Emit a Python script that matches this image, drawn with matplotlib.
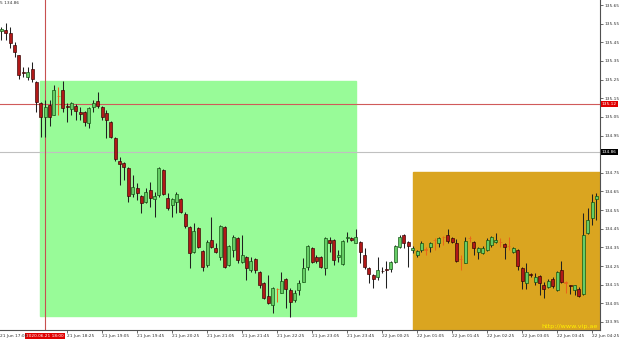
import matplotlib
matplotlib.use('Agg')
import matplotlib.pyplot as plt
import matplotlib.transforms as mtransforms
from matplotlib.patches import Rectangle
import numpy as np

# M5 candles, 21 Jun 17:10 -> 22 Jun 04:30
opens = [135.511, 135.516, 135.500, 135.436, 135.382, 135.289, 135.264, 135.307, 135.237, 135.125,
         135.050, 135.114, 135.060, 135.164, 135.194, 135.109, 135.093, 135.109, 135.076, 135.076,
         135.018, 135.103, 135.135, 135.103, 135.071, 135.023, 134.937, 134.814, 134.803, 134.776,
         134.637, 134.669, 134.626, 134.594, 134.658, 134.610, 134.632, 134.765, 134.615, 134.578,
         134.594, 134.610, 134.530, 134.460, 134.326, 134.454, 134.331, 134.256, 134.390, 134.347,
         134.299, 134.460, 134.256, 134.337, 134.401, 134.272, 134.299, 134.229, 134.288, 134.219,
         134.160, 134.090, 134.042, 134.129, 134.106, 134.181, 134.122, 134.068, 134.122, 134.165,
         134.245, 134.347, 134.299, 134.299, 134.240, 134.390, 134.390, 134.299, 134.261, 134.401,
         134.401, 134.374, 134.379, 134.310, 134.240, 134.202, 134.192, 134.226, 134.232, 134.235,
         134.272, 134.353, 134.417, 134.379, 134.337, 134.310, 134.337, 134.339, 134.353, 134.392,
         134.374, 134.408, 134.417, 134.401, 134.374, 134.290, 134.267, 134.403, 134.379, 134.326,
         134.320, 134.337, 134.363, 134.379, 134.381, 134.369, 134.360, 134.326, 134.337, 134.240,
         134.160, 134.205, 134.165, 134.197, 134.149, 134.138, 134.181, 134.122, 134.229, 134.162,
         134.146, 134.122, 134.127, 134.101, 134.428, 134.508, 134.610]
highs = [135.532, 135.554, 135.532, 135.452, 135.382, 135.318, 135.318, 135.345, 135.243, 135.130,
         135.141, 135.141, 135.221, 135.211, 135.243, 135.125, 135.130, 135.119, 135.103, 135.082,
         135.103, 135.141, 135.184, 135.109, 135.087, 135.028, 134.942, 134.835, 134.808, 134.782,
         134.739, 134.696, 134.632, 134.669, 134.701, 134.648, 134.782, 134.771, 134.642, 134.615,
         134.648, 134.615, 134.540, 134.465, 134.481, 134.460, 134.337, 134.390, 134.513, 134.374,
         134.471, 134.465, 134.363, 134.417, 134.406, 134.417, 134.304, 134.299, 134.294, 134.224,
         134.165, 134.202, 134.138, 134.133, 134.219, 134.186, 134.133, 134.122, 134.176, 134.294,
         134.363, 134.353, 134.310, 134.304, 134.406, 134.406, 134.396, 134.337, 134.390, 134.433,
         134.406, 134.449, 134.385, 134.347, 134.245, 134.208, 134.299, 134.245, 134.278, 134.278,
         134.363, 134.417, 134.422, 134.385, 134.358, 134.337, 134.385, 134.353, 134.379, 134.401,
         134.406, 134.412, 134.449, 134.406, 134.396, 134.310, 134.406, 134.412, 134.385, 134.353,
         134.358, 134.401, 134.412, 134.428, 134.401, 134.374, 134.406, 134.353, 134.342, 134.245,
         134.267, 134.213, 134.213, 134.202, 134.165, 134.181, 134.192, 134.224, 134.278, 134.170,
         134.149, 134.149, 134.138, 134.535, 134.562, 134.637, 134.642]
lows = [135.463, 135.463, 135.420, 135.371, 135.253, 135.264, 135.248, 135.237, 135.076, 134.942,
        134.942, 135.001, 135.060, 135.060, 135.076, 135.023, 135.060, 135.034, 135.034, 135.001,
        134.991, 135.076, 135.098, 135.034, 134.937, 134.937, 134.814, 134.685, 134.712, 134.594,
        134.621, 134.605, 134.535, 134.589, 134.567, 134.513, 134.621, 134.632, 134.551, 134.513,
        134.535, 134.535, 134.454, 134.240, 134.320, 134.347, 134.224, 134.245, 134.347, 134.320,
        134.283, 134.240, 134.251, 134.299, 134.267, 134.267, 134.176, 134.219, 134.213, 134.133,
        134.074, 134.047, 133.999, 134.058, 134.106, 134.025, 133.975, 134.058, 134.095, 134.165,
        134.229, 134.267, 134.267, 134.240, 134.202, 134.326, 134.256, 134.272, 134.256, 134.379,
        134.385, 134.374, 134.267, 134.235, 134.160, 134.133, 134.176, 134.213, 134.133, 134.219,
        134.267, 134.347, 134.347, 134.245, 134.320, 134.299, 134.326, 134.310, 134.326, 134.337,
        134.353, 134.363, 134.374, 134.374, 134.272, 134.229, 134.267, 134.379, 134.310, 134.288,
        134.315, 134.331, 134.353, 134.374, 134.353, 134.288, 134.337, 134.320, 134.229, 134.127,
        134.127, 134.192, 134.149, 134.095, 134.079, 134.133, 134.133, 134.117, 134.160, 134.106,
        134.101, 134.095, 134.085, 134.095, 134.422, 134.471, 134.497]
closes = [135.521, 135.500, 135.446, 135.398, 135.275, 135.284, 135.291, 135.253, 135.130, 135.050,
          135.103, 135.050, 135.194, 135.160, 135.098, 135.101, 135.125, 135.082, 135.066, 135.023,
          135.098, 135.125, 135.109, 135.050, 135.034, 134.942, 134.824, 134.798, 134.782, 134.626,
          134.674, 134.642, 134.589, 134.648, 134.615, 134.626, 134.776, 134.637, 134.562, 134.610,
          134.637, 134.540, 134.465, 134.320, 134.438, 134.353, 134.245, 134.379, 134.353, 134.326,
          134.465, 134.245, 134.358, 134.406, 134.283, 134.310, 134.240, 134.278, 134.229, 134.149,
          134.079, 134.052, 134.133, 134.125, 134.170, 134.127, 134.058, 134.106, 134.160, 134.240,
          134.358, 134.272, 134.278, 134.245, 134.401, 134.374, 134.283, 134.310, 134.385, 134.406,
          134.390, 134.406, 134.326, 134.245, 134.208, 134.181, 134.229, 134.221, 134.227, 134.272,
          134.358, 134.406, 134.374, 134.358, 134.347, 134.331, 134.374, 134.335, 134.374, 134.388,
          134.401, 134.404, 134.385, 134.379, 134.278, 134.286, 134.385, 134.399, 134.347, 134.347,
          134.347, 134.390, 134.406, 134.390, 134.377, 134.353, 134.356, 134.347, 134.251, 134.170,
          134.219, 134.200, 134.192, 134.160, 134.127, 134.170, 134.143, 134.219, 134.165, 134.158,
          134.141, 134.149, 134.090, 134.417, 134.497, 134.594, 134.626]

# right-hand price scale
price_ticks = [135.65, 135.55, 135.45, 135.35, 135.25, 135.15, 135.05, 134.95,
               134.75, 134.65, 134.55, 134.45, 134.35, 134.25, 134.15, 134.05, 133.95]
# time scale: bar index (from 17:10) and label
time_ticks = [15, 23, 31, 39, 47, 55, 63, 71, 79, 87, 95, 103, 111, 119, 127, 135]
time_labels = ['21 Jun 18:25', '21 Jun 19:05', '21 Jun 19:45', '21 Jun 20:25', '21 Jun 21:05',
               '21 Jun 21:45', '21 Jun 22:25', '21 Jun 23:05', '21 Jun 23:45', '22 Jun 00:25',
               '22 Jun 01:05', '22 Jun 01:45', '22 Jun 02:25', '22 Jun 03:05', '22 Jun 03:45',
               '22 Jun 04:25']

cross_bar = 10          # 2020.06.21 18:00
red_level = 135.12
grey_level = 134.86
green_zone = (8.8, 81.0, 133.983, 135.243)   # x0, x1, y0, y1
gold_zone = (94.0, 140.0, 133.80, 134.755)

fs = 3.1

fig = plt.figure(figsize=(6.25, 3.43), dpi=100)
ax = fig.add_axes([0, 13 / 343, 600 / 625, 330 / 343])
ax.set_xlim(-0.32, 136.82)
ax.set_ylim(133.907, 135.677)

ax.add_patch(Rectangle((green_zone[0], green_zone[2]), green_zone[1] - green_zone[0],
                       green_zone[3] - green_zone[2], color='#98FB98', zorder=1))
ax.add_patch(Rectangle((gold_zone[0], gold_zone[2]), gold_zone[1] - gold_zone[0],
                       gold_zone[3] - gold_zone[2], color='#DAA520', zorder=1))

ax.axhline(red_level, color='#D05A5A', lw=0.8, zorder=2)
ax.axhline(grey_level, color='#C0C0C0', lw=0.8, zorder=2)
ax.axvline(cross_bar, color='#C85050', lw=0.8, zorder=2)

o = np.array(opens)
h = np.array(highs)
l = np.array(lows)
c = np.array(closes)
x = np.arange(len(o))
up = c - o > 0.0045
down = o - c > 0.0045
fill = np.where(up, '#66CC66', np.where(down, '#B01818', '#E8661A'))
edge = np.where(up, '#0A4A0A', np.where(down, '#300000', '#E8661A'))
wick = np.where(up | down, '#202020', '#E8661A')
body_lo = np.minimum(o, c)
body_h = np.maximum(np.abs(c - o), 0.0015)

ax.vlines(x, l, h, colors=wick, lw=0.75, zorder=3)
ax.bar(x, body_h, bottom=body_lo, width=0.68, color=fill, edgecolor=edge, lw=0.45, zorder=4)

for s in ['top', 'left']:
    ax.spines[s].set_visible(False)
for s in ['right', 'bottom']:
    ax.spines[s].set_color('#505050')
    ax.spines[s].set_linewidth(0.8)

ax.yaxis.tick_right()
ax.set_yticks(price_ticks)
ax.set_yticklabels(['%.2f' % p for p in price_ticks])
ax.tick_params(axis='y', length=2, width=0.5, labelsize=fs, pad=1, colors='#303030')
ax.set_xticks(time_ticks)
ax.set_xticklabels(time_labels, ha='left')
ax.tick_params(axis='x', length=2, width=0.5, labelsize=fs, pad=1, colors='#303030')

ymix = mtransforms.blended_transform_factory(ax.transAxes, ax.transData)
xmix = mtransforms.blended_transform_factory(ax.transData, ax.transAxes)
ax.text(1.003, red_level, '135.12', transform=ymix, fontsize=fs, color='white',
        ha='left', va='center', bbox=dict(boxstyle='square,pad=0.2', fc='#E00000', ec='none'))
ax.text(1.003, grey_level, '134.86', transform=ymix, fontsize=fs, color='white',
        ha='left', va='center', bbox=dict(boxstyle='square,pad=0.2', fc='black', ec='none'))
ax.text(cross_bar, -0.012, '2020.06.21 18:00', transform=xmix, fontsize=fs, color='white',
        ha='center', va='top', clip_on=False,
        bbox=dict(boxstyle='square,pad=0.2', fc='#E00000', ec='none'))
ax.text(-0.3, -0.012, '21 Jun 17:05', transform=xmix, fontsize=fs, color='#303030',
        ha='left', va='top', clip_on=False)

ax.text(0.997, 0.004, 'http://www.vip.ae', transform=ax.transAxes, fontsize=4.6,
        color='#FFF000', ha='right', va='bottom', zorder=5)
fig.text(0.0, 0.997, '5 134.86', fontsize=fs, color='#303030', ha='left', va='top')

fig.savefig('out.png', dpi=100)
